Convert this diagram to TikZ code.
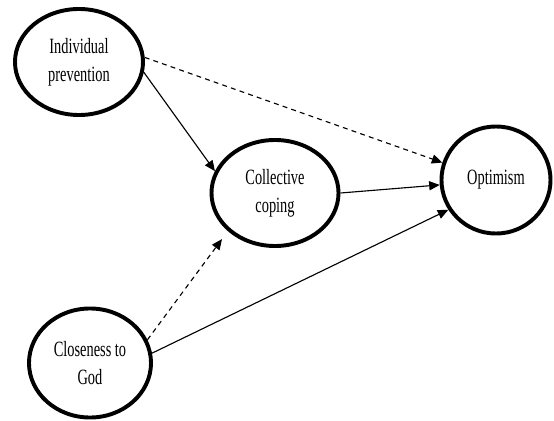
\documentclass[tikz,border=0pt]{standalone}
\usepackage{fontspec}
\newfontfamily\narrowserif{Liberation Serif}[FakeStretch=0.66]
\usetikzlibrary{arrows.meta, shapes.geometric}

\begin{document}
\begin{tikzpicture}[
  x=0.025cm, y=-0.025cm,
  every node/.style={font=\narrowserif\fontsize{15.5}{20}\selectfont, align=center},
  latent/.style={ellipse, draw, line width=2.8pt, inner sep=0pt},
  effect/.style={-{Triangle[length=7.5pt, width=6.5pt]}, line width=0.8pt},
  weak/.style={effect, dash pattern=on 3.5pt off 3pt}
]
\useasboundingbox (0,0) rectangle (554,421);

\node[latent, minimum width=3.2cm,   minimum height=2.65cm]  (ip)  at (79,62)   {Individual\\prevention};
\node[latent, minimum width=3.175cm, minimum height=2.65cm]  (cc)  at (275,193) {Collective\\coping};
\node[latent, minimum width=2.725cm, minimum height=2.675cm] (opt) at (496,180) {Optimism};
\node[latent, minimum width=3.05cm,  minimum height=2.725cm] (god) at (90,363)  {Closeness to\\God};

\draw[weak]   (ip.4)   -- (opt.162);
\draw[effect] (ip.-9)  -- (cc.160);
\draw[effect] (cc.0)   -- (opt.185);
\draw[weak, shorten >=7pt] (god.22) -- (cc.219);
\draw[effect] (god.9)  -- (opt.212);

\end{tikzpicture}
\end{document}
